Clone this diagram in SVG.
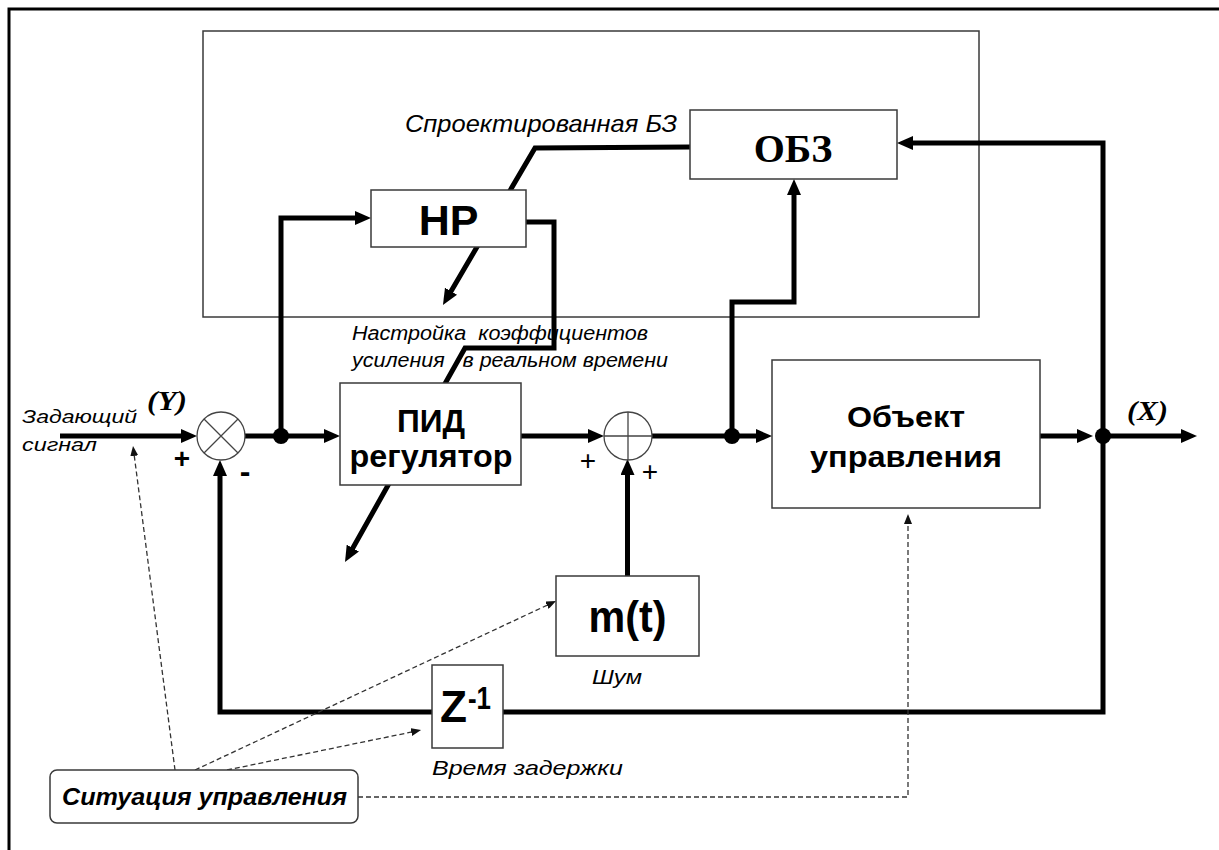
<svg xmlns="http://www.w3.org/2000/svg" width="1219" height="850" viewBox="0 0 1219 850">
<style>
.box{fill:#fff;stroke:#3a3a3a;stroke-width:1.5}
.thick{fill:none;stroke:#000;stroke-width:5;stroke-linejoin:miter}
.dash{fill:none;stroke:#333;stroke-width:1.3;stroke-dasharray:5 3}
.thin{fill:none;stroke:#444;stroke-width:1.3}
.sans{font-family:"Liberation Sans",Arial,sans-serif;fill:#000}
.serif{font-family:"Liberation Serif","Times New Roman",serif;fill:#000}
.b{font-weight:bold}
.i{font-style:italic}
.mid{text-anchor:middle}
.pre{white-space:pre}
</style>
<defs>
<marker id="arr" viewBox="0 0 16 14" refX="6" refY="7" markerWidth="16" markerHeight="14" markerUnits="userSpaceOnUse" orient="auto">
<path d="M0,0 L16,7 L0,14 z" fill="#000"/>
</marker>
<marker id="darr" viewBox="0 0 10 8" refX="3" refY="4" markerWidth="10" markerHeight="8" markerUnits="userSpaceOnUse" orient="auto">
<path d="M0,0 L10,4 L0,8 z" fill="#111"/>
</marker>
</defs>

<g id="frame">
<path d="M9,850 V9 H1219" fill="none" stroke="#000" stroke-width="3"/>
</g>

<g id="kb-area">
<rect x="203" y="31" width="776" height="286" fill="none" stroke="#3a3a3a" stroke-width="1.5"/>
<text class="sans i" x="405" y="132" font-size="24" textLength="272" lengthAdjust="spacingAndGlyphs">Спроектированная БЗ</text>
</g>

<g id="connectors">
<path class="thick" d="M60,436 H187" marker-end="url(#arr)"/>
<path class="thick" d="M245,436 H330" marker-end="url(#arr)"/>
<path class="thick" d="M281,436 V218 H361" marker-end="url(#arr)"/>
<path class="thick" d="M521,436 H594" marker-end="url(#arr)"/>
<path class="thick" d="M652,436 H762" marker-end="url(#arr)"/>
<path class="thick" d="M732,436 V302 H794 V189" marker-end="url(#arr)"/>
<path class="thick" d="M1040,436 H1083" marker-end="url(#arr)"/>
<path class="thick" d="M1103,436 H1187" marker-end="url(#arr)"/>
<path class="thick" d="M1103,436 V143 H907" marker-end="url(#arr)"/>
<path class="thick" d="M1103,436 V712 H220 V470" marker-end="url(#arr)"/>
<path class="thick" d="M627.5,576 V469" marker-end="url(#arr)"/>
<path class="thick" d="M690,147 L535,148 L448,296.4" marker-end="url(#arr)"/>
<path class="thick" d="M526,222 H554 V348 H465 L349.9,553.3" marker-end="url(#arr)"/>
<path class="dash" d="M175,770 L133.9,452.9" marker-end="url(#darr)"/>
<path class="dash" d="M195,770 L549.7,604" marker-end="url(#darr)"/>
<path class="dash" d="M227,770 L414.2,731.5" marker-end="url(#darr)"/>
<path class="dash" d="M358,797 H908 V521" marker-end="url(#darr)"/>
<circle cx="281" cy="436" r="8" fill="#000"/>
<circle cx="732" cy="436" r="8" fill="#000"/>
<circle cx="1103" cy="436" r="8" fill="#000"/>
</g>

<g id="node-hr">
<rect class="box" x="371" y="190" width="155" height="57"/>
<text class="sans b mid" x="448.5" y="235" font-size="43">НР</text>
</g>

<g id="node-obz">
<rect class="box" x="690" y="110" width="207" height="69"/>
<text class="serif b mid" x="793" y="162" font-size="40">ОБЗ</text>
</g>

<g id="node-pid">
<rect class="box" x="340" y="383" width="181" height="102"/>
<text class="sans b mid" x="431" y="432" font-size="31" textLength="68" lengthAdjust="spacingAndGlyphs">ПИД</text>
<text class="sans b mid" x="431" y="467" font-size="31" textLength="163" lengthAdjust="spacingAndGlyphs">регулятор</text>
</g>

<g id="node-object">
<rect class="box" x="772" y="360" width="268" height="148"/>
<text class="sans b mid" x="906" y="427" font-size="29" textLength="118" lengthAdjust="spacingAndGlyphs">Объект</text>
<text class="sans b mid" x="906" y="467" font-size="29" textLength="192" lengthAdjust="spacingAndGlyphs">управления</text>
</g>

<g id="node-noise">
<rect class="box" x="556" y="576" width="143" height="80"/>
<text class="sans b mid" x="627.5" y="632" font-size="45" textLength="78" lengthAdjust="spacingAndGlyphs">m(t)</text>
<text class="sans i" x="592" y="684" font-size="21" textLength="50" lengthAdjust="spacingAndGlyphs">Шум</text>
</g>

<g id="node-delay">
<rect class="box" x="432" y="665" width="71" height="83"/>
<text class="sans b" x="440" y="722" font-size="44" textLength="27" lengthAdjust="spacingAndGlyphs">Z</text>
<text class="sans b" x="468" y="709" font-size="32" textLength="23" lengthAdjust="spacingAndGlyphs">-1</text>
<text class="sans i" x="432" y="775" font-size="21" textLength="191" lengthAdjust="spacingAndGlyphs">Время задержки</text>
</g>

<g id="node-sum">
<circle class="thin" cx="221" cy="436" r="24" fill="#fff"/>
<path class="thin" d="M204,419 L238,453 M238,419 L204,453"/>
<text class="sans b mid" x="182" y="468" font-size="28">+</text>
<text class="sans b mid" x="245" y="482" font-size="32">-</text>
</g>

<g id="node-add">
<circle class="thin" cx="628" cy="436" r="24" fill="#fff"/>
<path class="thin" d="M604,436 H652 M628,412 V460"/>
<text class="sans mid" x="588" y="470" font-size="28">+</text>
<text class="sans mid" x="650" y="481" font-size="28">+</text>
</g>

<g id="node-situation">
<rect class="box" x="50" y="770" width="308" height="53" rx="7"/>
<text class="sans b i" x="62" y="805" font-size="23" textLength="285" lengthAdjust="spacingAndGlyphs">Ситуация управления</text>
</g>

<g id="labels">
<text class="sans i pre" x="352" y="340" font-size="19.5" textLength="296" lengthAdjust="spacingAndGlyphs" xml:space="preserve">Настройка  коэффициентов</text>
<text class="sans i pre" x="352" y="367" font-size="19.5" textLength="316" lengthAdjust="spacingAndGlyphs" xml:space="preserve">усиления   в реальном времени</text>
<text class="sans i" x="22" y="423" font-size="18" textLength="115" lengthAdjust="spacingAndGlyphs">Задающий</text>
<text class="sans i" x="22" y="451" font-size="18" textLength="75" lengthAdjust="spacingAndGlyphs">сигнал</text>
<text class="serif b i" x="147" y="410" font-size="28" textLength="40" lengthAdjust="spacingAndGlyphs">(Y)</text>
<text class="serif b i" x="1127" y="420" font-size="28" textLength="41" lengthAdjust="spacingAndGlyphs">(X)</text>
</g>
</svg>
